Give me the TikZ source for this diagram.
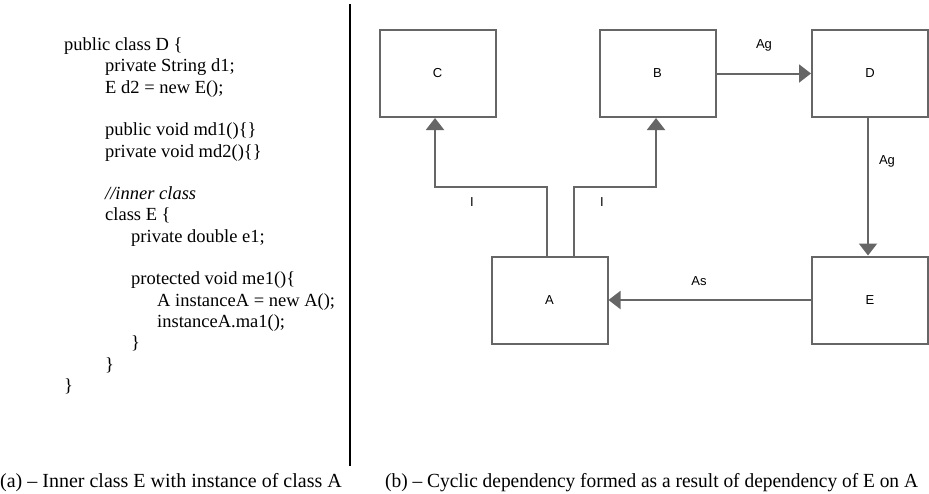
\documentclass[tikz,border=0pt]{standalone}
\usepackage{fontspec}
\setmainfont{Liberation Serif}
\newfontfamily\diagfont{Liberation Sans}
\usetikzlibrary{arrows.meta}
\definecolor{boxgrey}{HTML}{666666}
\tikzset{
  codeline/.style={anchor=base west, inner sep=0pt, font=\fontsize{18.5}{22}\selectfont},
  caption/.style={anchor=base west, inner sep=0pt, font=\fontsize{20}{22}\selectfont},
  classbox/.style={draw=boxgrey, line width=2pt, minimum width=116pt, minimum height=87pt,
    inner sep=0pt, font=\diagfont\fontsize{13}{15}\selectfont},
  conn/.style={draw=boxgrey, line width=2pt,
    -{Triangle[width=18pt,length=12pt,fill=boxgrey]}},
  edgelabel/.style={inner sep=0pt, font=\diagfont\fontsize{13}{15}\selectfont}
}
\begin{document}
\begin{tikzpicture}[x=1pt,y=-1pt]
\useasboundingbox (0,0) rectangle (929,493);
\fill[white] (0,0) rectangle (929,493);

% source listing
\foreach \k/\col/\txt in {
  0/64/{public class D \{},
  1/105/{private String d1;},
  2/105/{E d2 = new E();},
  4/105/{public void md1()\{\}},
  5/105/{private void md2()\{\}},
  7/105/{\textit{//inner class}},
  8/105/{class E \{},
  9/131/{private double e1;},
  11/131/{protected void me1()\{},
  12/157/{A instanceA = new A();},
  13/157/{instanceA.ma1();},
  14/131/{\}},
  15/105/{\}},
  16/64/{\}}}
  \node[codeline] (line\k) at (\col, 50.5+21.3*\k) {\txt};

% separator
\coordinate (sepTop) at (350,4);
\coordinate (sepBot) at (350,466);
\draw[line width=1.6pt] (sepTop) -- (sepBot);

% class boxes
\node[classbox] (C) at (437.5,73.5) {C};
\node[classbox] (B) at (657.5,73.5) {B};
\node[classbox] (D) at (870,73.5) {D};
\node[classbox] (A) at (549.5,300) {A};
\node[classbox] (E) at (870,300) {E};

% dependencies
\draw[conn] ([xshift=-2.5pt]A.north) -- ++(0,-69) -| ([xshift=-2.5pt]C.south);
\draw[conn] ([xshift=24.5pt]A.north) -- ++(0,-69) -| ([xshift=-1.5pt]B.south);
\draw[conn] (B.east) -- (D.west);
\draw[conn] ([xshift=-2pt]D.south) -- ([xshift=-2pt]E.north);
\draw[conn] (E.west) -- (A.east);

\node[edgelabel] (lblI1) at (472,202) {I};
\node[edgelabel] (lblI2) at (602,202) {I};
\node[edgelabel] (lblAg1) at (764,45) {Ag};
\node[edgelabel] (lblAg2) at (887,161) {Ag};
\node[edgelabel] (lblAs) at (699,281) {As};

% captions
\node[caption] (capA) at (0,487) {(a) -- Inner class E with instance of class A};
\node[caption] (capB) at (385,487) {\scalebox{0.97}[1]{(b) -- Cyclic dependency formed as a result of dependency of E on A}};
\end{tikzpicture}
\end{document}
